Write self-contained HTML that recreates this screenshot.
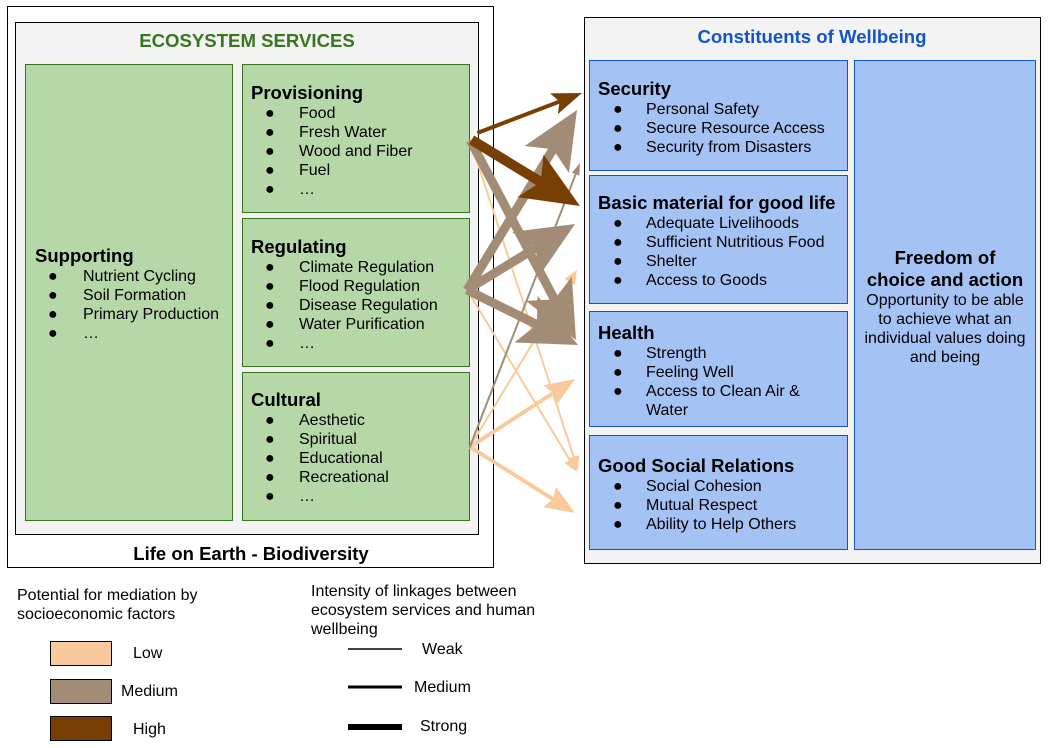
<!DOCTYPE html>
<html><head><meta charset="utf-8"><style>
html,body{margin:0;padding:0;background:#fff;}
svg{display:block;font-family:"Liberation Sans",Arial,sans-serif;}
</style></head><body>
<svg width="1049" height="748" viewBox="0 0 1049 748" xmlns="http://www.w3.org/2000/svg">

<rect x="7.5" y="6.5" width="486" height="561" fill="#fff" stroke="#000"/>
<rect x="15.5" y="22.5" width="463" height="512" fill="#f3f3f3" stroke="#000"/>
<text x="247" y="47" text-anchor="middle" font-size="18.6" font-weight="bold" fill="#38761d">ECOSYSTEM SERVICES</text>

<rect x="25.5" y="64.5" width="207" height="456" fill="#b6d7a8" stroke="#38761d"/>
<rect x="242.5" y="64.5" width="227" height="148" fill="#b6d7a8" stroke="#38761d"/>
<rect x="242.5" y="218.5" width="227" height="148" fill="#b6d7a8" stroke="#38761d"/>
<rect x="242.5" y="372.5" width="227" height="148" fill="#b6d7a8" stroke="#38761d"/>

<g font-size="16" fill="#000">
<text x="35" y="262" font-size="18.5" font-weight="bold">Supporting</text>
<text x="48" y="281">●</text><text x="83" y="281">Nutrient Cycling</text>
<text x="48" y="300">●</text><text x="83" y="300">Soil Formation</text>
<text x="48" y="319">●</text><text x="83" y="319">Primary Production</text>
<text x="48" y="338">●</text><text x="83" y="338">…</text>

<text x="251" y="99" font-size="18.5" font-weight="bold">Provisioning</text>
<text x="265" y="118">●</text><text x="299" y="118">Food</text>
<text x="265" y="137">●</text><text x="299" y="137">Fresh Water</text>
<text x="265" y="156">●</text><text x="299" y="156">Wood and Fiber</text>
<text x="265" y="175">●</text><text x="299" y="175">Fuel</text>
<text x="265" y="194">●</text><text x="299" y="194">…</text>

<text x="251" y="253" font-size="18.5" font-weight="bold">Regulating</text>
<text x="265" y="272">●</text><text x="299" y="272">Climate Regulation</text>
<text x="265" y="291">●</text><text x="299" y="291">Flood Regulation</text>
<text x="265" y="310">●</text><text x="299" y="310">Disease Regulation</text>
<text x="265" y="329">●</text><text x="299" y="329">Water Purification</text>
<text x="265" y="348">●</text><text x="299" y="348">…</text>

<text x="251" y="406" font-size="18.5" font-weight="bold">Cultural</text>
<text x="265" y="425">●</text><text x="299" y="425">Aesthetic</text>
<text x="265" y="444">●</text><text x="299" y="444">Spiritual</text>
<text x="265" y="463">●</text><text x="299" y="463">Educational</text>
<text x="265" y="482">●</text><text x="299" y="482">Recreational</text>
<text x="265" y="501">●</text><text x="299" y="501">…</text>
</g>
<text x="251" y="560" text-anchor="middle" font-size="18.5" font-weight="bold">Life on Earth - Biodiversity</text>

<rect x="584.5" y="17.5" width="456" height="546" fill="#f3f3f3" stroke="#000"/>
<text x="812" y="43" text-anchor="middle" font-size="18.6" font-weight="bold" fill="#1155cc">Constituents of Wellbeing</text>
<rect x="589.5" y="60.5" width="258" height="110" fill="#a4c2f4" stroke="#1155cc"/>
<rect x="589.5" y="175.5" width="258" height="128" fill="#a4c2f4" stroke="#1155cc"/>
<rect x="589.5" y="311.5" width="258" height="115" fill="#a4c2f4" stroke="#1155cc"/>
<rect x="589.5" y="435.5" width="258" height="114" fill="#a4c2f4" stroke="#1155cc"/>
<rect x="854.5" y="60.5" width="181" height="489" fill="#a4c2f4" stroke="#1155cc"/>

<g font-size="16" fill="#000">
<text x="598" y="95" font-size="18.5" font-weight="bold">Security</text>
<text x="613" y="114">●</text><text x="646" y="114">Personal Safety</text>
<text x="613" y="133">●</text><text x="646" y="133">Secure Resource Access</text>
<text x="613" y="152">●</text><text x="646" y="152">Security from Disasters</text>

<text x="598" y="209" font-size="18.5" font-weight="bold">Basic material for good life</text>
<text x="613" y="228">●</text><text x="646" y="228">Adequate Livelihoods</text>
<text x="613" y="247">●</text><text x="646" y="247">Sufficient Nutritious Food</text>
<text x="613" y="266">●</text><text x="646" y="266">Shelter</text>
<text x="613" y="285">●</text><text x="646" y="285">Access to Goods</text>

<text x="598" y="339" font-size="18.5" font-weight="bold">Health</text>
<text x="613" y="358">●</text><text x="646" y="358">Strength</text>
<text x="613" y="377">●</text><text x="646" y="377">Feeling Well</text>
<text x="613" y="396">●</text><text x="646" y="396">Access to Clean Air &amp;</text>
<text x="646" y="415">Water</text>

<text x="598" y="472" font-size="18.5" font-weight="bold">Good Social Relations</text>
<text x="613" y="491">●</text><text x="646" y="491">Social Cohesion</text>
<text x="613" y="510">●</text><text x="646" y="510">Mutual Respect</text>
<text x="613" y="529">●</text><text x="646" y="529">Ability to Help Others</text>

<g text-anchor="middle">
<text x="945" y="264" font-size="18.5" font-weight="bold">Freedom of</text>
<text x="945" y="286" font-size="18.5" font-weight="bold">choice and action</text>
<text x="945" y="305">Opportunity to be able</text>
<text x="945" y="324">to achieve what an</text>
<text x="945" y="343">individual values doing</text>
<text x="945" y="362">and being</text>
</g>
</g>

<g transform="translate(578,470) rotate(71.9)" fill="#f9cb9c" stroke="#f9cb9c">
<line x1="-347" y1="0" x2="-10" y2="0" stroke-width="2"/><polygon points="0,0 -14,-6 -14,6" stroke="none"/></g>
<g transform="translate(577,472) rotate(58.9)" fill="#f9cb9c" stroke="#f9cb9c">
<line x1="-213" y1="0" x2="-10" y2="0" stroke-width="2"/><polygon points="0,0 -14,-6 -14,6" stroke="none"/></g>
<g transform="translate(577,270) rotate(-58.8)" fill="#f9cb9c" stroke="#f9cb9c">
<line x1="-207" y1="0" x2="-10" y2="0" stroke-width="2"/><polygon points="0,0 -14,-6 -14,6" stroke="none"/></g>
<g transform="translate(575,379) rotate(-32.9)" fill="#f9cb9c" stroke="#f9cb9c">
<line x1="-125" y1="0" x2="-22" y2="0" stroke-width="4"/><polygon points="0,0 -30,-12 -26,0 -30,12" stroke="none"/></g>
<g transform="translate(575,513) rotate(32.2)" fill="#f9cb9c" stroke="#f9cb9c">
<line x1="-124" y1="0" x2="-22" y2="0" stroke-width="4"/><polygon points="0,0 -30,-12 -26,0 -30,12" stroke="none"/></g>
<g transform="translate(580,163) rotate(-68.8)" fill="#a38c76" stroke="#a38c76">
<line x1="-305" y1="0" x2="-8" y2="0" stroke-width="2"/><polygon points="0,0 -12,-4 -12,4" stroke="none"/></g>
<g transform="translate(576,340) rotate(62.1)" fill="#a38c76" stroke="#a38c76">
<line x1="-226" y1="0" x2="-40" y2="0" stroke-width="9"/><polygon points="0,0 -58,-26 -46,0 -58,26" stroke="none"/></g>
<g transform="translate(577,110) rotate(-58.6)" fill="#a38c76" stroke="#a38c76">
<line x1="-211" y1="0" x2="-40" y2="0" stroke-width="9"/><polygon points="0,0 -58,-26 -46,0 -58,26" stroke="none"/></g>
<g transform="translate(575,224) rotate(-31.4)" fill="#a38c76" stroke="#a38c76">
<line x1="-127" y1="0" x2="-40" y2="0" stroke-width="9"/><polygon points="0,0 -58,-26 -46,0 -58,26" stroke="none"/></g>
<g transform="translate(578,345) rotate(26.4)" fill="#a38c76" stroke="#a38c76">
<line x1="-124" y1="0" x2="-40" y2="0" stroke-width="9"/><polygon points="0,0 -58,-26 -46,0 -58,26" stroke="none"/></g>
<g transform="translate(582,93) rotate(-20.9)" fill="#783f04" stroke="#783f04">
<line x1="-112" y1="0" x2="-20" y2="0" stroke-width="4"/><polygon points="0,0 -30,-11 -24,0 -30,11" stroke="none"/></g>
<g transform="translate(580,206) rotate(31.4)" fill="#783f04" stroke="#783f04">
<line x1="-127" y1="0" x2="-40" y2="0" stroke-width="10"/><polygon points="0,0 -58,-25 -46,0 -58,25" stroke="none"/></g>

<g font-size="16" fill="#000">
<text x="17" y="600">Potential for mediation by</text>
<text x="17" y="619">socioeconomic factors</text>
<rect x="50.5" y="641.5" width="61" height="24" fill="#f9cb9c" stroke="#000"/>
<text x="133" y="658">Low</text>
<rect x="50.5" y="679.5" width="61" height="24" fill="#a38c76" stroke="#000"/>
<text x="121" y="696">Medium</text>
<rect x="50.5" y="716.5" width="61" height="24" fill="#783f04" stroke="#000"/>
<text x="133" y="734">High</text>

<text x="311" y="596">Intensity of linkages between</text>
<text x="311" y="615">ecosystem services and human</text>
<text x="311" y="634">wellbeing</text>
<line x1="348" y1="649" x2="402" y2="649" stroke="#000" stroke-width="1.5"/>
<text x="422" y="654">Weak</text>
<line x1="348" y1="687" x2="402" y2="687" stroke="#000" stroke-width="3"/>
<text x="414" y="692">Medium</text>
<line x1="348" y1="727" x2="402" y2="727" stroke="#000" stroke-width="6"/>
<text x="420" y="731">Strong</text>
</g>
</svg>
</body></html>
